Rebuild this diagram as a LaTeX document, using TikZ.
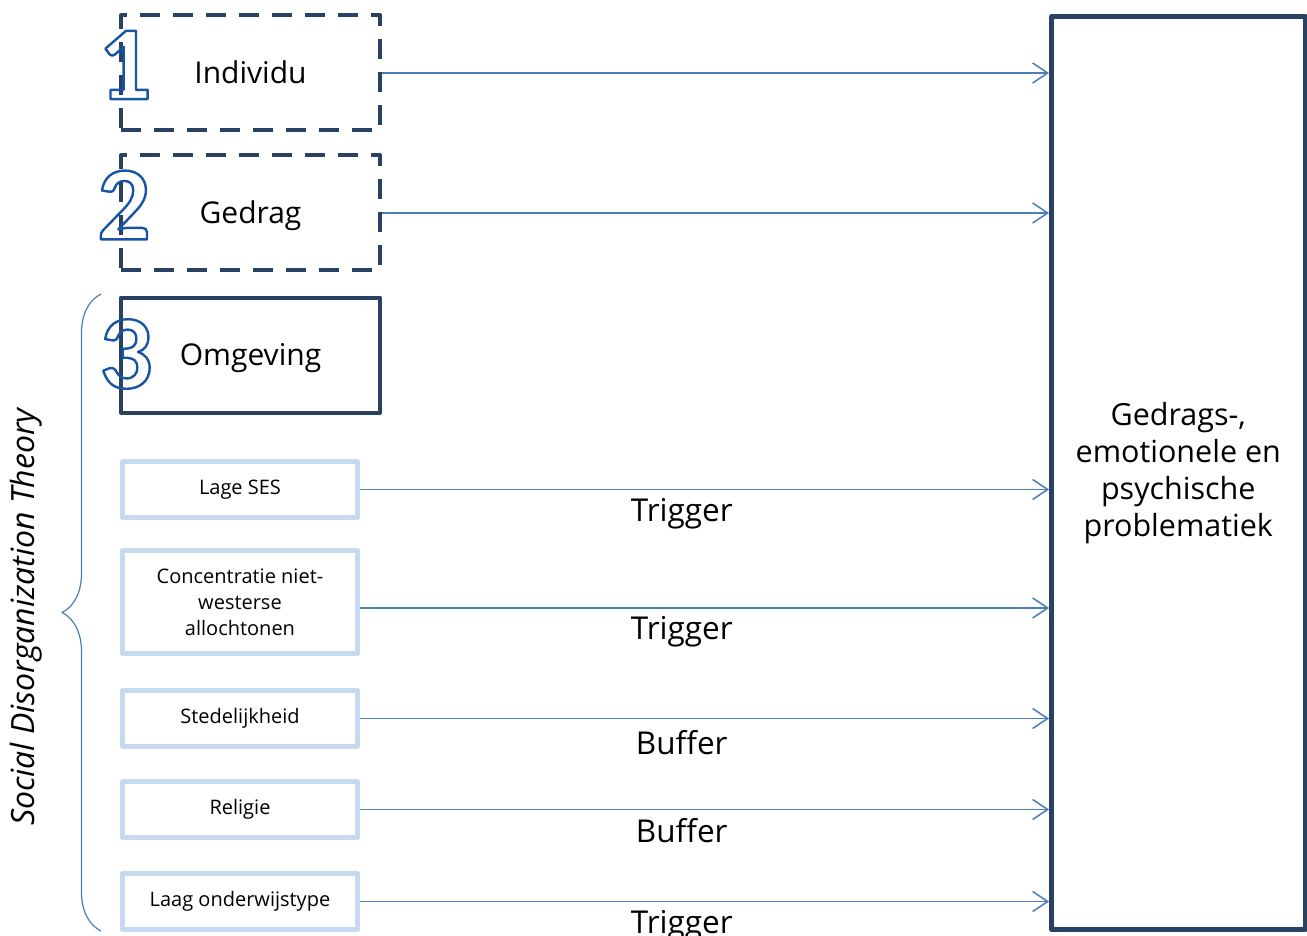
\documentclass[tikz,border=0pt]{standalone}
\usepackage{fontspec}
\setmainfont{Open Sans}
\newfontfamily\cijferfont{Carlito}[UprightFont={* Bold}]
\usetikzlibrary{arrows.meta,decorations.pathreplacing}
\definecolor{navy}{RGB}{41,66,100}
\definecolor{pijl}{RGB}{74,126,187}
\definecolor{licht}{RGB}{198,217,241}
\definecolor{cijferblauw}{RGB}{23,84,166}
% holle cijfers (alleen omtrek)
\newcommand{\cijfer}[1]{\special{pdf:literal 1 Tr 2.4 w}#1\special{pdf:literal 0 Tr}}
\begin{document}
\begin{tikzpicture}[x=1pt, y=-1pt, line join=round,
	>={Straight Barb[length=15pt,width=20pt]},
	factor/.style={draw=navy, line width=4pt, minimum width=259pt, minimum height=115pt, inner sep=0pt, text height=28pt, text depth=7pt, font=\fontsize{30}{36}\selectfont},
	stippel/.style={factor, dash pattern=on 20pt off 13pt},
	sub/.style={draw=licht, line width=5pt, minimum width=235pt, minimum height=56pt, align=center, inner sep=0pt, font=\fontsize{20}{26}\selectfont},
	pijlen/.style={->, draw=pijl, line width=1.5pt},
	etiket/.style={below, inner sep=8pt, pos=.467, font=\fontsize{31.5}{36}\selectfont},
	num/.style={inner sep=0pt, text=cijferblauw, font=\fontsize{105}{105}\selectfont\cijferfont}]
	\useasboundingbox (0,0) rectangle (1307,936);
	% drie niveaus
	\node[stippel] (indiv) at (250.5,73) {Individu};
	\node[stippel] (gedrag) at (250.5,213) {Gedrag};
	\node[factor] (omg) at (250.5,355) {Omgeving};
	\node[num] (een) at (125,65) {\cijfer{1}};
	\node[num] (twee) at (124,205) {\cijfer{2}};
	\node[num] (drie) at (126,354) {\cijfer{3}};
	% omgevingsfactoren
	\node[sub] (ses) at (240,489.5) {Lage SES};
	\node[sub, minimum height=103pt] (conc) at (240,602) {Concentratie niet-\\westerse\\allochtonen};
	\node[sub] (stad) at (240,718.5) {Stedelijkheid};
	\node[sub] (rel) at (240,809.5) {Religie};
	\node[sub] (onderw) at (240,901.5) {Laag onderwijstype};
	% uitkomst
	\node[draw=navy, line width=5pt, minimum width=253.5pt, minimum height=913pt, align=center, font=\fontsize{30.5}{37}\selectfont] (probl) at (1178.25,473) {Gedrags-,\\emotionele en\\psychische\\problematiek};
	% pijlen
	\draw[pijlen] (indiv.east) -- (indiv.east -| probl.west);
	\draw[pijlen] (gedrag.east) -- (gedrag.east -| probl.west);
	\draw[pijlen] (ses.east) -- node[etiket] {Trigger} (ses.east -| probl.west);
	\draw[pijlen] ([yshift=-6pt]conc.east) -- node[etiket] {Trigger} ([yshift=-6pt]conc.east -| probl.west);
	\draw[pijlen] (stad.east) -- node[etiket, inner sep=11pt] {Buffer} (stad.east -| probl.west);
	\draw[pijlen] (rel.east) -- node[etiket] {Buffer} (rel.east -| probl.west);
	\draw[pijlen] (onderw.east) -- node[etiket] {Trigger} (onderw.east -| probl.west);
	% accolade
	\coordinate (boven) at (101,294);
	\coordinate (onder) at (101,931);
	\draw[pijl, line width=1.2pt, decorate, decoration={brace, amplitude=39pt}] (onder) -- (boven);
	\node[rotate=90, font=\fontsize{32}{36}\selectfont\itshape] (theorie) at (26,617) {Social Disorganization Theory};
\end{tikzpicture}
\end{document}
